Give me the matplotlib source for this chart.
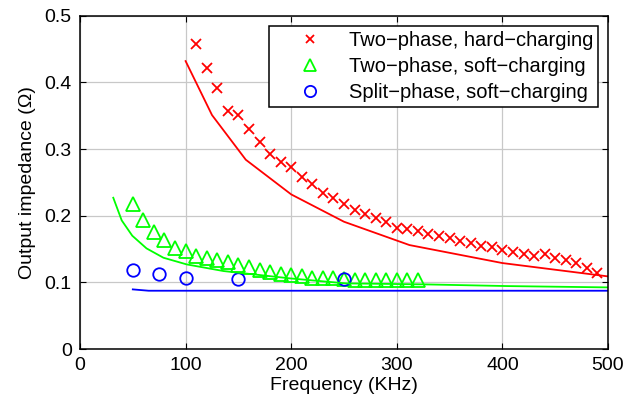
import matplotlib.pyplot as plt

plt.rcParams['font.family'] = ['Liberation Sans', 'DejaVu Sans']

# measured points
hard_f = [110, 120, 130, 140, 150, 160, 170, 180, 190, 200, 210, 220, 230, 240,
          250, 260, 270, 280, 290, 300, 310, 320, 330, 340, 350, 360, 370, 380,
          390, 400, 410, 420, 430, 440, 450, 460, 470, 480, 490]
hard_z = [0.458, 0.422, 0.392, 0.357, 0.351, 0.330, 0.310, 0.293, 0.281, 0.273,
          0.258, 0.247, 0.234, 0.226, 0.218, 0.208, 0.202, 0.196, 0.190, 0.182,
          0.180, 0.177, 0.173, 0.170, 0.166, 0.162, 0.159, 0.155, 0.153, 0.148,
          0.145, 0.143, 0.139, 0.143, 0.137, 0.133, 0.129, 0.122, 0.114]

soft_f = [50, 60, 70, 80, 90, 100, 110, 120, 130, 140, 150, 160, 170, 180, 190,
          200, 210, 220, 230, 240, 250, 260, 270, 280, 290, 300, 310, 320]
soft_z = [0.218, 0.193, 0.176, 0.163, 0.152, 0.147, 0.139, 0.137, 0.133, 0.131,
          0.126, 0.123, 0.118, 0.116, 0.112, 0.111, 0.109, 0.107, 0.107, 0.106,
          0.105, 0.104, 0.104, 0.104, 0.104, 0.104, 0.104, 0.104]

split_f = [50, 75, 100, 150, 250]
split_z = [0.118, 0.112, 0.106, 0.1045, 0.1045]

# model curves
hard_mf = [100, 125, 157, 200, 250, 312, 400, 500]
hard_mz = [0.432, 0.351, 0.284, 0.232, 0.191, 0.156, 0.129, 0.109]

soft_mf = [31.5, 39.5, 49.5, 63, 79, 101, 136, 199, 252, 327, 404, 500]
soft_mz = [0.227, 0.193, 0.170, 0.151, 0.137, 0.127, 0.117, 0.106, 0.0985,
           0.097, 0.0945, 0.0925]

split_mf = [50, 65, 500]
split_mz = [0.0895, 0.0875, 0.0875]

fig = plt.figure(figsize=(6.38, 4.04), dpi=100)
ax = fig.add_axes([0.1254, 0.136, 0.8276, 0.825])

ax.plot(hard_f, hard_z, 'x', color='red', ms=7, mew=1.3, ls='none',
        label='Two\u2212phase, hard\u2212charging')
ax.plot(soft_f, soft_z, '^', color='#00ff00', mfc='none', ms=10, mew=1.3, ls='none',
        label='Two\u2212phase, soft\u2212charging')
ax.plot(split_f, split_z, 'o', color='blue', mfc='none', ms=9, mew=1.3, ls='none',
        label='Split\u2212phase, soft\u2212charging')

ax.plot(hard_mf, hard_mz, '-', color='red', lw=1.3)
ax.plot(soft_mf, soft_mz, '-', color='#00ff00', lw=1.3)
ax.plot(split_mf, split_mz, '-', color='blue', lw=1.3)

ax.set_xlim(0, 500)
ax.set_ylim(0, 0.5)
ax.set_xticks([0, 100, 200, 300, 400, 500])
ax.set_yticks([0, 0.1, 0.2, 0.3, 0.4, 0.5])
ax.set_yticklabels(['0', '0.1', '0.2', '0.3', '0.4', '0.5'])
ax.grid(True, color='#c8c8c8', lw=0.9)
ax.set_axisbelow(True)
ax.tick_params(direction='in', length=4, width=0.8, labelsize=14, pad=6,
               top=True, right=True)
for s in ax.spines.values():
    s.set_linewidth(1.1)

ax.set_xlabel('Frequency (KHz)', fontsize=14, labelpad=2)
ax.set_ylabel('Output impedance (\u03a9)', fontsize=14, labelpad=6)

leg = ax.legend(loc='upper right', fontsize=14.5, fancybox=False, framealpha=1,
                edgecolor='black', borderaxespad=0.5, handlelength=3.6,
                handletextpad=0.1, labelspacing=0.35, borderpad=0.25,
                markerscale=0.9)
leg.get_frame().set_linewidth(1.1)

fig.savefig('out.png', dpi=100)
